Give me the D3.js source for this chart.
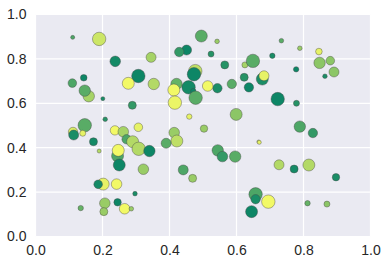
<!DOCTYPE html>
<html><head><meta charset="utf-8">
<script src="https://cdn.jsdelivr.net/npm/d3@7"></script>
<style>body{margin:0;background:#fff}svg{display:block}</style>
</head><body><svg id="c" width="387" height="265"></svg>
<script>
const xs = [0.111,0.190,0.238,0.307,0.277,0.110,0.144,0.345,0.495,0.542,0.451,0.429,0.524,0.565,0.625,0.649,0.623,0.637,0.586,0.543,0.514,0.477,0.473,0.421,0.457,0.353,0.734,0.789,0.707,0.846,0.848,0.880,0.778,0.891,0.864,0.677,0.682,0.159,0.147,0.201,0.289,0.208,0.147,0.112,0.114,0.141,0.173,0.190,0.237,0.262,0.272,0.290,0.307,0.308,0.340,0.245,0.247,0.250,0.322,0.413,0.471,0.478,0.416,0.459,0.599,0.503,0.414,0.422,0.390,0.544,0.558,0.596,0.666,0.441,0.469,0.723,0.779,0.789,0.828,0.668,0.727,0.772,0.816,0.897,0.657,0.657,0.695,0.645,0.812,0.870,0.202,0.187,0.242,0.297,0.135,0.207,0.204,0.245,0.266,0.286];
const ys = [0.897,0.890,0.789,0.723,0.690,0.691,0.715,0.807,0.903,0.879,0.840,0.831,0.822,0.773,0.773,0.791,0.717,0.672,0.687,0.668,0.678,0.745,0.731,0.687,0.672,0.687,0.882,0.848,0.814,0.833,0.782,0.792,0.753,0.741,0.722,0.709,0.724,0.632,0.657,0.621,0.591,0.528,0.501,0.471,0.457,0.465,0.427,0.385,0.478,0.472,0.438,0.427,0.492,0.395,0.385,0.363,0.388,0.322,0.303,0.660,0.655,0.625,0.603,0.540,0.550,0.486,0.468,0.430,0.420,0.388,0.360,0.360,0.427,0.300,0.262,0.619,0.600,0.495,0.466,0.424,0.323,0.304,0.322,0.267,0.190,0.168,0.157,0.112,0.150,0.146,0.236,0.235,0.236,0.193,0.128,0.150,0.112,0.154,0.125,0.125];
const areas = [16,180,112,180,144,74,44,100,144,21,100,88,36,64,36,180,64,88,88,88,112,180,180,130,180,130,21,21,29,44,130,74,29,100,21,144,100,130,130,16,64,21,180,88,100,36,64,16,88,112,88,144,74,180,130,144,144,144,112,144,29,180,180,29,144,55,112,144,100,130,112,130,12,100,64,180,36,130,88,16,100,64,144,55,180,88,180,144,29,36,144,74,112,21,29,112,64,55,112,21];
const colorVals = [0.3,0.8,0.08,0.05,0.95,0.3,0.05,0.65,0.35,0.6,0.05,0.2,0.15,0.15,0.65,0.35,0.15,0.05,0.35,0.1,0.95,0.75,0.05,0.4,0.08,0.7,0.35,0.6,0.1,0.9,0.55,0.55,0.05,0.55,0.1,0.1,0.9,0.65,0.35,0.1,0.2,0.15,0.35,0.85,0.1,0.9,0.08,0.7,0.95,0.65,0.3,0.7,0.9,0.7,0.05,0.3,0.95,0.05,0.6,0.95,0.05,0.35,0.92,0.9,0.55,0.6,0.6,0.75,0.35,0.3,0.2,0.35,0.8,0.3,0.6,0.05,0.15,0.3,0.2,0.9,0.7,0.08,0.7,0.1,0.3,0.1,0.95,0.05,0.4,0.55,0.9,0.08,0.95,0.1,0.4,0.6,0.6,0.05,0.95,0.6];
const xTicks = [0.0,0.2,0.4,0.6,0.8,1.0];
const yTicks = [0.0,0.2,0.4,0.6,0.8,1.0];

const svg = d3.select("#c");
const L=35.5, R=370.5, T=14.5, B=236.5;
const x = d3.scaleLinear().domain([0,1]).range([L,R]);
const y = d3.scaleLinear().domain([0,1]).range([B,T]);
const r = d3.scaleSqrt().domain([0,400]).range([0,10]);
const col = d3.scaleSequential(d3.interpolateRgb("#008066","#ffff66")).domain([0,1]);

svg.append("rect").attr("x",L).attr("y",T).attr("width",R-L).attr("height",B-T).attr("fill","#eaeaf2");
svg.append("g").selectAll("line").data(xTicks).join("line")
  .attr("x1",d=>x(d)).attr("x2",d=>x(d)).attr("y1",T).attr("y2",B).attr("stroke","#fff").attr("stroke-width",1.2);
svg.append("g").selectAll("line").data(yTicks).join("line")
  .attr("y1",d=>y(d)).attr("y2",d=>y(d)).attr("x1",L).attr("x2",R).attr("stroke","#fff").attr("stroke-width",1.2);

const data = xs.map((v,i)=>({x:v,y:ys[i],s:areas[i],c:colorVals[i]}));
svg.append("g").selectAll("circle").data(data).join("circle")
  .attr("cx",d=>x(d.x)).attr("cy",d=>y(d.y)).attr("r",d=>r(d.s))
  .attr("fill",d=>col(d.c)).attr("stroke","rgba(70,70,70,0.6)").attr("stroke-width",0.7);

const xa = svg.append("g").attr("transform",`translate(0,${B})`)
  .call(d3.axisBottom(x).tickValues(xTicks).tickFormat(d3.format(".1f")).tickSize(0).tickPadding(9));
const ya = svg.append("g").attr("transform",`translate(${L},0)`)
  .call(d3.axisLeft(y).tickValues(yTicks).tickFormat(d3.format(".1f")).tickSize(0).tickPadding(9));
[xa,ya].forEach(a=>{a.select(".domain").remove();
  a.selectAll("text").attr("font-family","'Liberation Sans', Arial, sans-serif").attr("font-size",14).attr("fill","#262626");});
</script></body></html>
